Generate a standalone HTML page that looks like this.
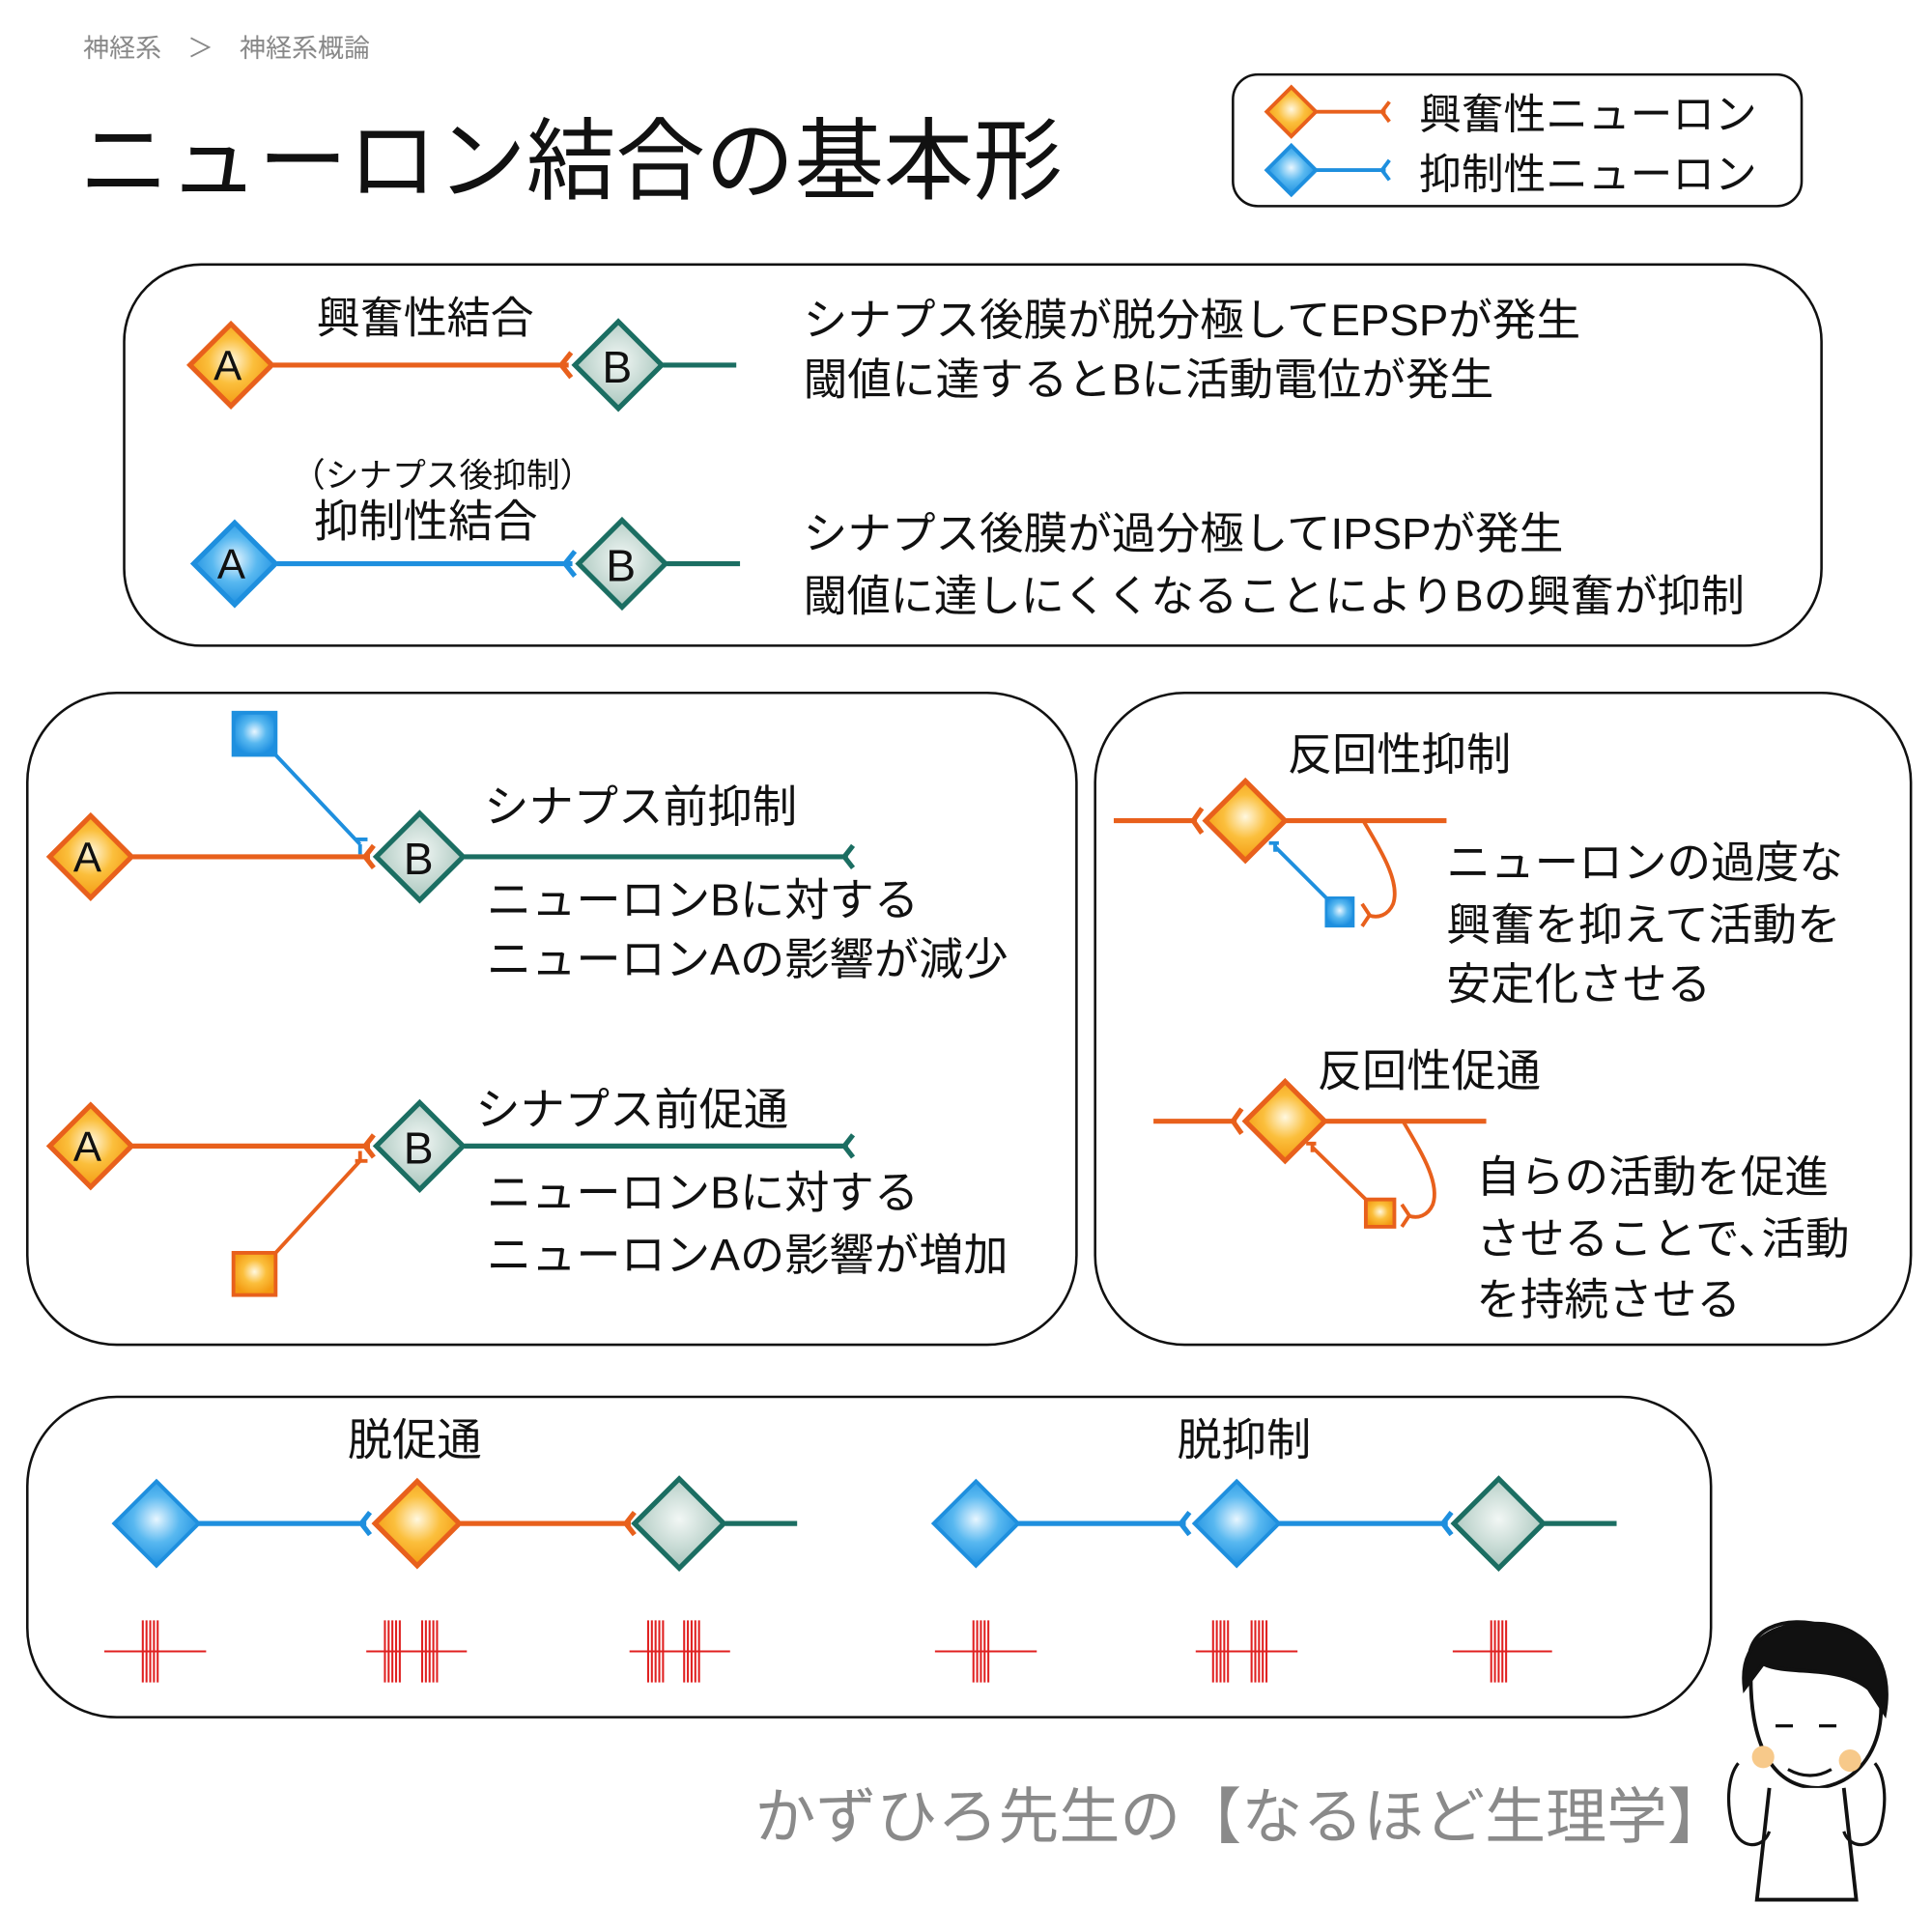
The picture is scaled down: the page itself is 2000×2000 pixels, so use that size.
<!DOCTYPE html>
<html><head><meta charset="utf-8"><style>
html,body{margin:0;padding:0;background:#fff}
svg{display:block}
text{font-family:"Liberation Sans","Noto Sans CJK JP",sans-serif;fill:#111}
</style></head><body>
<svg width="2000" height="2000" viewBox="0 0 1556 1556" xmlns="http://www.w3.org/2000/svg">
<defs>
<radialGradient id="go" cx="50%" cy="45%" r="55%"><stop offset="0" stop-color="#fff8e0"/><stop offset="0.5" stop-color="#fbbf3c"/><stop offset="1" stop-color="#f39a12"/></radialGradient>
<radialGradient id="gb" cx="50%" cy="45%" r="55%"><stop offset="0" stop-color="#e8f6ff"/><stop offset="0.5" stop-color="#58b8f0"/><stop offset="1" stop-color="#1d8fe0"/></radialGradient>
<radialGradient id="gt" cx="50%" cy="45%" r="55%"><stop offset="0" stop-color="#f2f7f5"/><stop offset="1" stop-color="#a9c6bd"/></radialGradient>
</defs>
<g fill="none" stroke-linecap="butt">
<!-- header -->
<text x="67" y="46" font-size="21" style="fill:#888">神経系　＞　神経系概論</text>
<text x="64" y="155" font-size="72">ニューロン結合の基本形</text>
<rect x="993" y="60" width="458" height="106" rx="20" stroke="#111" stroke-width="2"/>
<path d="M1060,90H1116M1119,82L1113,90 1119,98" stroke="#e8601c" stroke-width="3"/>
<path d="M1060,137H1116M1119,129L1113,137 1119,145" stroke="#1e8fde" stroke-width="3"/>
<g transform="translate(1040,90) scale(0.6)"><path d="M0,-33 L33,0 0,33 -33,0Z" fill="url(#go)" stroke="#e8601c" stroke-width="5"/></g>
<g transform="translate(1040,137) scale(0.6)"><path d="M0,-33 L33,0 0,33 -33,0Z" fill="url(#gb)" stroke="#1e8fde" stroke-width="5"/></g>
<text x="1143" y="104" font-size="34">興奮性ニューロン</text>
<text x="1143" y="152" font-size="34">抑制性ニューロン</text>

<!-- box1 -->
<rect x="100" y="213" width="1367" height="307" rx="62" stroke="#111" stroke-width="2"/>
<path d="M220,294H458M460,284L452,294 460,304" stroke="#e8601c" stroke-width="4"/>
<path d="M534,294H593" stroke="#1b6e62" stroke-width="4"/>
<g transform="translate(186,294)"><path d="M0,-33 L33,0 0,33 -33,0Z" fill="url(#go)" stroke="#e8601c" stroke-width="4"/></g>
<g transform="translate(498,294)"><path d="M0,-35 L35,0 0,35 -35,0Z" fill="url(#gt)" stroke="#1b6e62" stroke-width="4"/></g>
<text x="172" y="306" font-size="34">A</text><text x="485" y="308" font-size="36">B</text>
<text x="255" y="268" font-size="35">興奮性結合</text>
<text x="647" y="270" font-size="35.5">シナプス後膜が脱分極してEPSPが発生</text>
<text x="647" y="318" font-size="35.5">閾値に達するとBに活動電位が発生</text>
<path d="M223,454H461M463,444L455,454 463,464" stroke="#1e8fde" stroke-width="4"/>
<path d="M537,454H596" stroke="#1b6e62" stroke-width="4"/>
<g transform="translate(189,454)"><path d="M0,-33 L33,0 0,33 -33,0Z" fill="url(#gb)" stroke="#1e8fde" stroke-width="4"/></g>
<g transform="translate(501,454)"><path d="M0,-35 L35,0 0,35 -35,0Z" fill="url(#gt)" stroke="#1b6e62" stroke-width="4"/></g>
<text x="175" y="466" font-size="34">A</text><text x="488" y="468" font-size="36">B</text>
<text x="235" y="392" font-size="27">（シナプス後抑制）</text>
<text x="253" y="432" font-size="36">抑制性結合</text>
<text x="647" y="442" font-size="35.5">シナプス後膜が過分極してIPSPが発生</text>
<text x="647" y="492" font-size="35" textLength="758" lengthAdjust="spacingAndGlyphs">閾値に達しにくくなることによりBの興奮が抑制</text>

<!-- box2 -->
<rect x="22" y="558" width="845" height="525" rx="72" stroke="#111" stroke-width="2"/>
<rect x="188" y="574" width="34" height="34" fill="url(#gb)" stroke="#1e8fde" stroke-width="3"/>
<path d="M222,608L290,680M286,676H296M290,680V688" stroke="#1e8fde" stroke-width="3"/>
<path d="M107,690H298M301,681L294,690 301,699" stroke="#e8601c" stroke-width="4"/>
<path d="M374,690H683M687,681L680,690 687,699" stroke="#1b6e62" stroke-width="4"/>
<g transform="translate(73,690)"><path d="M0,-33 L33,0 0,33 -33,0Z" fill="url(#go)" stroke="#e8601c" stroke-width="4"/></g>
<g transform="translate(338,690)"><path d="M0,-35 L35,0 0,35 -35,0Z" fill="url(#gt)" stroke="#1b6e62" stroke-width="4"/></g>
<text x="59" y="702" font-size="34">A</text><text x="325" y="704" font-size="36">B</text>
<text x="390" y="662" font-size="36">シナプス前抑制</text>
<text x="392" y="737" font-size="36">ニューロンBに対する</text>
<text x="392" y="785" font-size="36">ニューロンAの影響が減少</text>
<rect x="188" y="1009" width="34" height="34" fill="url(#go)" stroke="#e8601c" stroke-width="3"/>
<path d="M222,1009L290,935M286,935H296M290,935V927" stroke="#e8601c" stroke-width="3"/>
<path d="M107,923H298M301,914L294,923 301,932" stroke="#e8601c" stroke-width="4"/>
<path d="M374,923H683M687,914L680,923 687,932" stroke="#1b6e62" stroke-width="4"/>
<g transform="translate(73,923)"><path d="M0,-33 L33,0 0,33 -33,0Z" fill="url(#go)" stroke="#e8601c" stroke-width="4"/></g>
<g transform="translate(338,923)"><path d="M0,-35 L35,0 0,35 -35,0Z" fill="url(#gt)" stroke="#1b6e62" stroke-width="4"/></g>
<text x="59" y="935" font-size="34">A</text><text x="325" y="937" font-size="36">B</text>
<text x="383" y="906" font-size="36">シナプス前促通</text>
<text x="392" y="973" font-size="36">ニューロンBに対する</text>
<text x="392" y="1023" font-size="36">ニューロンAの影響が増加</text>

<!-- box3 -->
<rect x="882" y="558" width="657" height="525" rx="72" stroke="#111" stroke-width="2"/>
<path d="M897,661H964M968,651L961,661 968,671M1035,661H1165" stroke="#e8601c" stroke-width="4"/>
<path d="M1098,661C1112,685 1128,710 1122,728 C1118,737 1110,740 1102,737M1097,728L1103,737 1097,746" stroke="#e8601c" stroke-width="3"/>
<g transform="translate(1003,661)"><path d="M0,-32 L32,0 0,32 -32,0Z" fill="url(#go)" stroke="#e8601c" stroke-width="4"/></g>
<path d="M1068,723L1027,682M1022,679H1030M1027,678V686" stroke="#1e8fde" stroke-width="3"/>
<rect x="1068" y="723" width="22" height="23" fill="url(#gb)" stroke="#1e8fde" stroke-width="2"/>
<text x="1037" y="620" font-size="36">反回性抑制</text>
<text x="1165" y="707" font-size="35.5">ニューロンの過度な</text>
<text x="1165" y="757" font-size="35.5">興奮を抑えて活動を</text>
<text x="1165" y="805" font-size="35.5">安定化させる</text>
<path d="M929,903H996M1000,893L993,903 1000,913M1067,903H1197" stroke="#e8601c" stroke-width="4"/>
<path d="M1130,903C1144,927 1160,952 1154,970 C1150,979 1142,982 1134,979M1129,970L1135,979 1129,988" stroke="#e8601c" stroke-width="3"/>
<g transform="translate(1035,903)"><path d="M0,-32 L32,0 0,32 -32,0Z" fill="url(#go)" stroke="#e8601c" stroke-width="4"/></g>
<path d="M1100,966L1057,924M1052,921H1060M1057,920V928" stroke="#e8601c" stroke-width="3"/>
<rect x="1100" y="966" width="23" height="22" fill="url(#go)" stroke="#e8601c" stroke-width="3"/>
<text x="1061" y="875" font-size="36">反回性促通</text>
<text x="1189" y="960" font-size="35.5">自らの活動を促進</text>
<text x="1189" y="1010" font-size="35.5">させることで､活動</text>
<text x="1189" y="1059" font-size="35.5">を持続させる</text>

<!-- box4 -->
<rect x="22" y="1125" width="1356" height="258" rx="72" stroke="#111" stroke-width="2"/>
<text x="280" y="1172" font-size="36">脱促通</text>
<text x="948" y="1172" font-size="36">脱抑制</text>
<path d="M160,1227H295M298,1218L291,1227 298,1236" stroke="#1e8fde" stroke-width="4"/>
<path d="M371,1227H508M511,1218L504,1227 511,1236" stroke="#e8601c" stroke-width="4"/>
<path d="M584,1227H642" stroke="#1b6e62" stroke-width="4"/>
<g transform="translate(126,1227)"><path d="M0,-34 L34,0 0,34 -34,0Z" fill="url(#gb)" stroke="#1e8fde" stroke-width="3"/></g>
<g transform="translate(336,1227)"><path d="M0,-34 L34,0 0,34 -34,0Z" fill="url(#go)" stroke="#e8601c" stroke-width="4"/></g>
<g transform="translate(547,1227)"><path d="M0,-36 L36,0 0,36 -36,0Z" fill="url(#gt)" stroke="#1b6e62" stroke-width="4"/></g>
<path d="M820,1227H955M958,1218L951,1227 958,1236M1030,1227H1166M1169,1218L1162,1227 1169,1236" stroke="#1e8fde" stroke-width="4"/>
<path d="M1244,1227H1302" stroke="#1b6e62" stroke-width="4"/>
<g transform="translate(786,1227)"><path d="M0,-34 L34,0 0,34 -34,0Z" fill="url(#gb)" stroke="#1e8fde" stroke-width="3"/></g>
<g transform="translate(996,1227)"><path d="M0,-34 L34,0 0,34 -34,0Z" fill="url(#gb)" stroke="#1e8fde" stroke-width="3"/></g>
<g transform="translate(1207,1227)"><path d="M0,-36 L36,0 0,36 -36,0Z" fill="url(#gt)" stroke="#1b6e62" stroke-width="4"/></g>
<g stroke="#e02020" stroke-width="1.6">
<path d="M84,1330H166M295,1330H376M507,1330H588M753,1330H835M963,1330H1045M1170,1330H1250"/>
<path d="M115,1305V1355M118,1305V1355M121,1305V1355M124,1305V1355M127,1305V1355"/>
<path d="M310,1305V1355M313,1305V1355M316,1305V1355M319,1305V1355M322,1305V1355M340,1305V1355M343,1305V1355M346,1305V1355M349,1305V1355M352,1305V1355"/>
<path d="M522,1305V1355M525,1305V1355M528,1305V1355M531,1305V1355M534,1305V1355M551,1305V1355M554,1305V1355M557,1305V1355M560,1305V1355M563,1305V1355"/>
<path d="M784,1305V1355M787,1305V1355M790,1305V1355M793,1305V1355M796,1305V1355"/>
<path d="M977,1305V1355M980,1305V1355M983,1305V1355M986,1305V1355M989,1305V1355M1008,1305V1355M1011,1305V1355M1014,1305V1355M1017,1305V1355M1020,1305V1355"/>
<path d="M1201,1305V1355M1204,1305V1355M1207,1305V1355M1210,1305V1355M1213,1305V1355"/>
</g>
</g>
<text x="608" y="1480" font-size="49" style="fill:#8a8a8a">かずひろ先生の【なるほど生理学】</text>
<!-- cartoon -->
<g fill="none" stroke="#111" stroke-width="3">
<path d="M1410,1350C1400,1310 1440,1300 1470,1310C1505,1315 1525,1345 1515,1375C1515,1405 1500,1435 1465,1440C1430,1440 1410,1410 1410,1350Z" fill="#fff"/>
<path d="M1405,1360C1400,1320 1430,1305 1470,1308C1505,1312 1525,1340 1518,1380L1505,1360C1480,1340 1440,1350 1420,1340Z" fill="#111"/>
<circle cx="1420" cy="1415" r="9" fill="#f7c98a" stroke="none"/><circle cx="1490" cy="1418" r="9" fill="#f7c98a" stroke="none"/>
<path d="M1430,1390h14M1465,1390h14M1440,1425q18,10 35,0" stroke-width="2.5"/>
<path d="M1425,1440L1415,1530L1495,1530L1485,1440" fill="#fff"/>
<path d="M1400,1420c-8,10 -10,30 -5,50c5,20 25,20 30,5M1510,1420c8,10 10,30 5,50c-5,20 -25,20 -30,5" stroke-width="2.5"/>
</g>
</svg>
</body></html>
